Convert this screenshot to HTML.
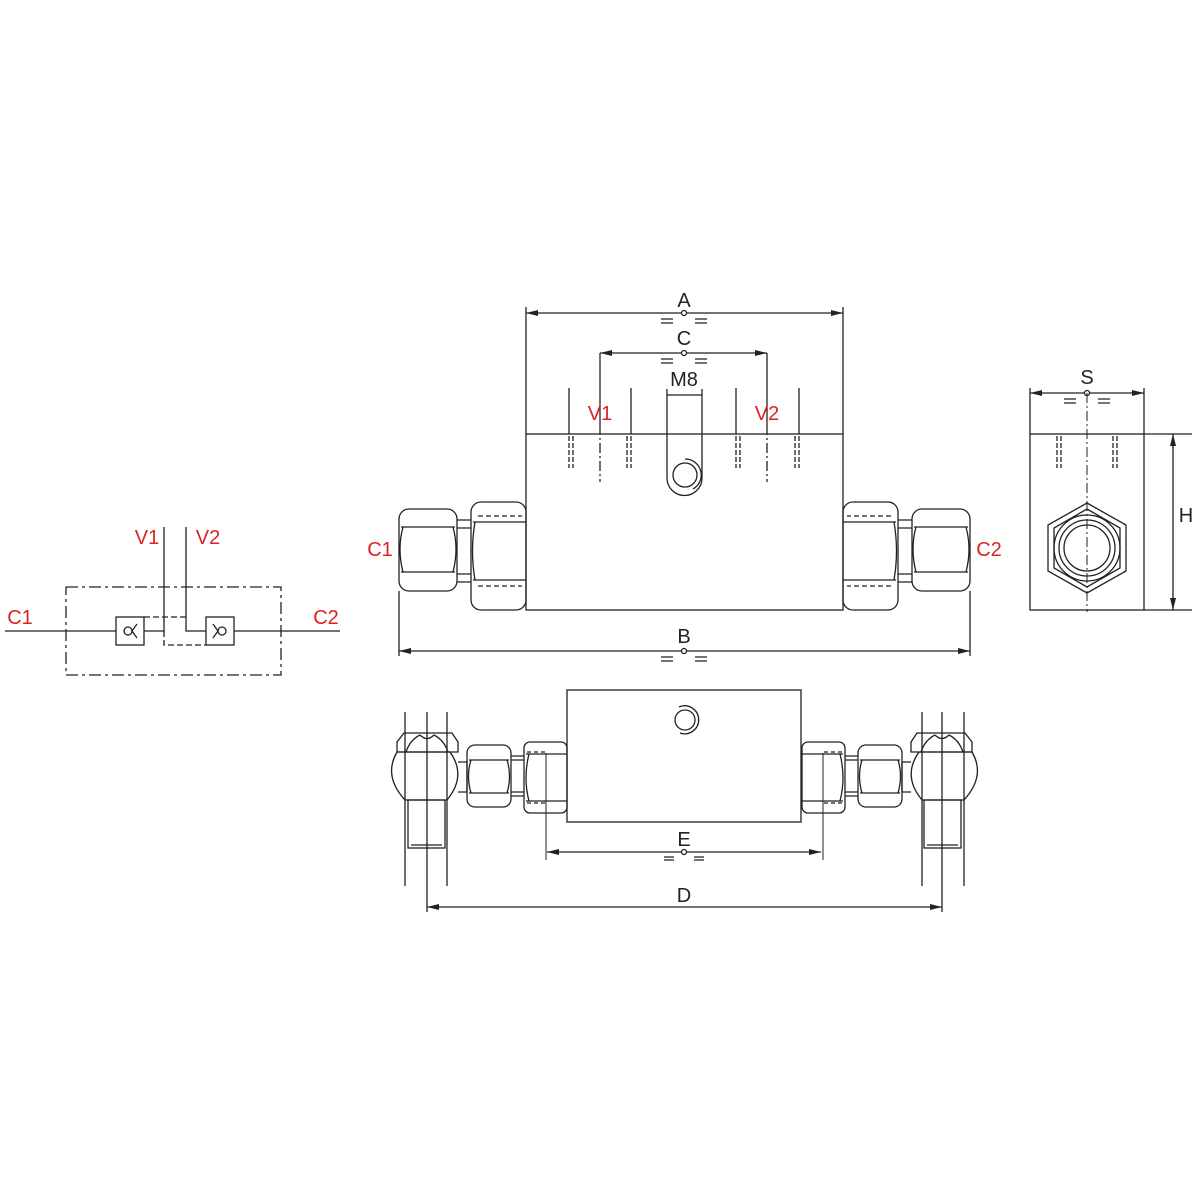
<!DOCTYPE html>
<html><head><style>body{margin:0;background:#fff}svg{display:block}text{font-family:"Liberation Sans",sans-serif}</style></head><body>
<svg width="1200" height="1200" viewBox="0 0 1200 1200" fill="none" stroke="#222" stroke-width="1.3">
<defs>
<marker id="ar" viewBox="0 0 12 6" refX="12" refY="3" markerWidth="12" markerHeight="6" orient="auto-start-reverse" markerUnits="userSpaceOnUse"><path d="M0,0L12,3L0,6z" fill="#222" stroke="none"/></marker>
<g id="fitL">
<rect x="471" y="502" width="55" height="108" rx="10"/>
<line x1="473" y1="522" x2="526" y2="522"/><line x1="473" y1="580" x2="526" y2="580"/>
<path d="M475 522 Q470 551 475 580"/>
<path d="M478 516 H522 M478 586 H522" stroke-dasharray="5 3"/>
<rect x="399" y="509" width="58" height="82" rx="10"/>
<path d="M401 527 H455 M401 572 H455"/>
<path d="M403 527 Q397 549 403 572 M453 527 Q459 549 453 572"/>
<path d="M457 520 H471 M457 528 H471 M457 574 H471 M457 582 H471"/>
</g>
<g id="botL">
<rect x="524" y="742" width="43" height="71" rx="6"/>
<path d="M526 754 H567 M526 801 H567"/>
<path d="M529 754 Q523 778 529 801"/>
<path d="M546 753 V860" stroke-width="1"/>
<path d="M527 752 H546 M527 803 H546" stroke-dasharray="4 3"/>
<rect x="467" y="745" width="44" height="62" rx="8"/>
<path d="M469 760 H509 M469 793 H509"/>
<path d="M471 760 Q466 776 471 793 M507 760 Q512 776 507 793"/>
<path d="M511 756 H524 M511 796 H524 M511 760 H524 M511 792 H524"/>
<path d="M458 762 H467 V792 H458"/>
<path d="M397 752 Q383 776 405 800 H447 Q467 776 450 752 Z"/>
<path d="M397 752 V742 L404 733 H452 L458 742 V752 Z"/>
<path d="M406 752 Q410 740 420 735 M448 752 Q444 740 434 735 M420 735 Q427 742 434 735"/>
<rect x="408" y="800" width="37" height="48"/>
<line x1="411" y1="845" x2="442" y2="845"/>
<path d="M405 712 V886 M447 712 V886"/>
<line x1="427" y1="712" x2="427" y2="912"/>
</g>
</defs>
<rect x="526" y="434" width="317" height="176"/>
<path d="M526 307 V434 M843 307 V434"/>
<line x1="526" y1="313" x2="843" y2="313" marker-start="url(#ar)" marker-end="url(#ar)"/>
<circle cx="684" cy="313" r="2.5" fill="#fff"/>
<path d="M661 319 H673 M661 323 H673 M695 319 H707 M695 323 H707"/>
<text x="684" y="307" font-size="20" text-anchor="middle" fill="#222" stroke="none">A</text>
<path d="M600 353 V425 M767 353 V425"/>
<line x1="600" y1="353" x2="767" y2="353" marker-start="url(#ar)" marker-end="url(#ar)"/>
<circle cx="684" cy="353" r="2.5" fill="#fff"/>
<path d="M661 359 H673 M661 363 H673 M695 359 H707 M695 363 H707"/>
<text x="684" y="345" font-size="20" text-anchor="middle" fill="#222" stroke="none">C</text>
<text x="684" y="386" font-size="20" text-anchor="middle" fill="#222" stroke="none">M8</text>
<path d="M667 389 V478 A17.5 17.5 0 0 0 702 478 V389 M667 395 H702"/>
<circle cx="685" cy="475" r="12"/>
<path d="M685 459 A16 16 0 0 1 693 489"/>
<path d="M569 388 V434 M631 388 V434 M736 388 V434 M799 388 V434"/>
<path d="M569 436 V468 M573 436 V468 M627 436 V468 M631 436 V468 M736 436 V468 M740 436 V468 M795 436 V468 M799 436 V468" stroke-dasharray="5 2"/>
<path d="M600 425 V482 M767 425 V482" stroke-dasharray="10 3 2 3"/>
<text x="600" y="420" font-size="20" text-anchor="middle" fill="#d22" stroke="none">V1</text>
<text x="767" y="420" font-size="20" text-anchor="middle" fill="#d22" stroke="none">V2</text>
<use href="#fitL"/>
<use href="#fitL" transform="translate(1369 0) scale(-1 1)"/>
<text x="380" y="556" font-size="20" text-anchor="middle" fill="#d22" stroke="none">C1</text>
<text x="989" y="556" font-size="20" text-anchor="middle" fill="#d22" stroke="none">C2</text>
<path d="M399 591 V656 M970 591 V656"/>
<line x1="399" y1="651" x2="970" y2="651" marker-start="url(#ar)" marker-end="url(#ar)"/>
<circle cx="684" cy="651" r="2.5" fill="#fff"/>
<path d="M661 657 H673 M661 661 H673 M695 657 H707 M695 661 H707"/>
<text x="684" y="643" font-size="20" text-anchor="middle" fill="#222" stroke="none">B</text>
<rect x="1030" y="434" width="114" height="176"/>
<path d="M1030 388 V434 M1144 388 V434 M1144 434 H1192 M1144 610 H1192"/>
<line x1="1030" y1="393" x2="1144" y2="393" marker-start="url(#ar)" marker-end="url(#ar)"/>
<circle cx="1087" cy="393" r="2.5" fill="#fff"/>
<path d="M1064 399 H1076 M1064 403 H1076 M1098 399 H1110 M1098 403 H1110"/>
<text x="1087" y="384" font-size="20" text-anchor="middle" fill="#222" stroke="none">S</text>
<line x1="1087" y1="393" x2="1087" y2="612" stroke-dasharray="10 3 2 3" stroke-width="1"/>
<path d="M1057 436 V468 M1061 436 V468 M1113 436 V468 M1117 436 V468" stroke-dasharray="5 2"/>
<line x1="1173" y1="434" x2="1173" y2="610" marker-start="url(#ar)" marker-end="url(#ar)"/>
<text x="1186" y="522" font-size="20" text-anchor="middle" fill="#222" stroke="none">H</text>
<polygon points="1087,503 1126,525 1126,571 1087,593 1048,571 1048,525"/>
<polygon points="1087,509 1120,528 1120,568 1087,587 1054,568 1054,528"/>
<circle cx="1087" cy="548" r="33"/>
<circle cx="1087" cy="548" r="28"/>
<circle cx="1087" cy="548" r="23"/>
<rect x="567" y="690" width="234" height="132"/>
<circle cx="685" cy="720" r="10"/>
<path d="M679 707 A14 14 0 1 1 680 733"/>
<use href="#botL"/>
<use href="#botL" transform="translate(1369 0) scale(-1 1)"/>
<line x1="547" y1="852" x2="821" y2="852" marker-start="url(#ar)" marker-end="url(#ar)"/>
<circle cx="684" cy="852" r="2.5" fill="#fff"/>
<path d="M664 857 H674 M664 860 H674 M694 857 H704 M694 860 H704"/>
<text x="684" y="846" font-size="20" text-anchor="middle" fill="#222" stroke="none">E</text>
<line x1="427" y1="907" x2="942" y2="907" marker-start="url(#ar)" marker-end="url(#ar)"/>
<text x="684" y="902" font-size="20" text-anchor="middle" fill="#222" stroke="none">D</text>
<rect x="66" y="587" width="215" height="88" stroke-dasharray="12 4 3 4"/>
<path d="M5 631 H116 M144 631 H164 V527 M186 527 V631 H206 M234 631 H340"/>
<path d="M144 617 H186 M164 631 V645 H206" stroke-dasharray="6 3"/>
<rect x="116" y="617" width="28" height="28"/>
<rect x="206" y="617" width="28" height="28"/>
<circle cx="128" cy="631" r="4"/><path d="M137 624 L132 631 L137 638"/>
<circle cx="222" cy="631" r="4"/><path d="M213 624 L218 631 L213 638"/>
<text x="20" y="624" font-size="20" text-anchor="middle" fill="#d22" stroke="none">C1</text>
<text x="326" y="624" font-size="20" text-anchor="middle" fill="#d22" stroke="none">C2</text>
<text x="147" y="544" font-size="20" text-anchor="middle" fill="#d22" stroke="none">V1</text>
<text x="208" y="544" font-size="20" text-anchor="middle" fill="#d22" stroke="none">V2</text>
</svg>
</body></html>
